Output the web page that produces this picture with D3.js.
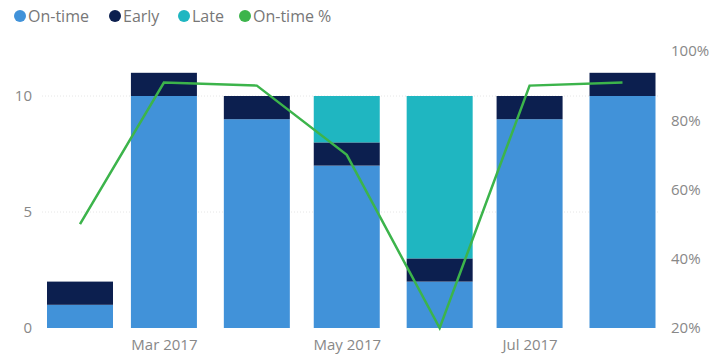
<!DOCTYPE html>
<html>
<head>
<meta charset="utf-8">
<script src="https://cdn.jsdelivr.net/npm/d3@7"></script>
<style>
  body { margin: 0; background: #fff; }
  text { font-family: "Open Sans", "DejaVu Sans", sans-serif; }
</style>
</head>
<body>
<div class="chart"></div>
<script>
// months (first of month), stacked counts and on-time share
var months = ['2017-02-01','2017-03-01','2017-04-01','2017-05-01','2017-06-01','2017-07-01','2017-08-01'];
var onTime = [1, 10, 9, 7, 2, 9, 10];
var early  = [1, 1, 1, 1, 1, 1, 1];
var late   = [0, 0, 0, 2, 7, 0, 0];
var onTimePct = [0.50, 0.909, 0.90, 0.70, 0.20, 0.90, 0.909];

var seriesNames = ['On-time', 'Early', 'Late'];
var colors = {'On-time': '#4192d9', 'Early': '#0c1f4f', 'Late': '#1fb6c1', 'On-time %': '#3cb44b'};
var leftTicks = [0, 5, 10];
var rightTicks = [0.2, 0.4, 0.6, 0.8, 1.0];
var xTickDates = ['2017-03-01', '2017-05-01', '2017-07-01'];

var width = 718, height = 361;
var parse = d3.timeParse('%Y-%m-%d');

var svg = d3.select('.chart').append('svg')
  .attr('width', width)
  .attr('height', height);

var rows = months.map(function(m, i) {
  return {date: parse(m), 'On-time': onTime[i], 'Early': early[i], 'Late': late[i], pct: onTimePct[i]};
});

// continuous time axis, bar centred on the 1st of each month
var x = d3.scaleTime()
  .domain([parse('2017-02-01'), parse('2017-08-01')])
  .range([80, 622.5]);
var barW = 66;

var y = d3.scaleLinear().domain([0, 12]).range([328, 49.6]);
var y2 = d3.scaleLinear().domain([0.2, 1.0]).range([328, 51]);

// gridlines
svg.selectAll('.grid')
  .data([5, 10])
  .enter().append('line')
  .attr('x1', 42).attr('x2', 660)
  .attr('y1', function(d){ return y(d); })
  .attr('y2', function(d){ return y(d); })
  .attr('stroke', '#e6e6e6')
  .attr('stroke-dasharray', '1,2');

// stacked bars
var stack = d3.stack().keys(seriesNames);
var layers = stack(rows);

svg.selectAll('.layer')
  .data(layers)
  .enter().append('g')
  .attr('fill', function(d){ return colors[d.key]; })
  .selectAll('rect')
  .data(function(d){ return d; })
  .enter().append('rect')
  .attr('x', function(d){ return x(d.data.date) - barW / 2; })
  .attr('width', barW)
  .attr('y', function(d){ return y(d[1]); })
  .attr('height', function(d){ return y(d[0]) - y(d[1]); });

// on-time % line
var line = d3.line()
  .x(function(d){ return x(d.date); })
  .y(function(d){ return y2(d.pct); });

svg.append('path')
  .datum(rows)
  .attr('fill', 'none')
  .attr('stroke', colors['On-time %'])
  .attr('stroke-width', 2.5)
  .attr('d', line);

// left axis
var yAxis = d3.axisLeft(y).tickValues(leftTicks).tickSize(0).tickPadding(0);
var gl = svg.append('g').attr('transform', 'translate(32,0)').call(yAxis);
gl.select('.domain').remove();
gl.selectAll('text').attr('fill', '#888').style('font-size', '15px');

// right axis
var y2Axis = d3.axisRight(y2).tickValues(rightTicks).tickSize(0).tickPadding(0)
  .tickFormat(d3.format('.0%'));
var gr = svg.append('g').attr('transform', 'translate(671,0)').call(y2Axis);
gr.select('.domain').remove();
gr.selectAll('text').attr('fill', '#888').style('font-size', '15px');

// x axis
var xAxis = d3.axisBottom(x)
  .tickValues(xTickDates.map(parse))
  .tickFormat(d3.timeFormat('%b %Y'))
  .tickSize(0).tickPadding(0);
var gx = svg.append('g').attr('transform', 'translate(0,339)').call(xAxis);
gx.select('.domain').remove();
gx.selectAll('text').attr('fill', '#888').style('font-size', '15px');

// legend
var legendItems = ['On-time', 'Early', 'Late', 'On-time %'];
var legendX = [20, 115, 184, 245];
var lg = svg.selectAll('.legend')
  .data(legendItems)
  .enter().append('g')
  .attr('transform', function(d, i){ return 'translate(' + legendX[i] + ',16)'; });
lg.append('circle').attr('r', 6).attr('fill', function(d){ return colors[d]; });
lg.append('text')
  .attr('x', 8).attr('dy', '0.35em')
  .attr('fill', '#777')
  .style('font-size', '16px')
  .text(function(d){ return d; });
</script>
</body>
</html>
